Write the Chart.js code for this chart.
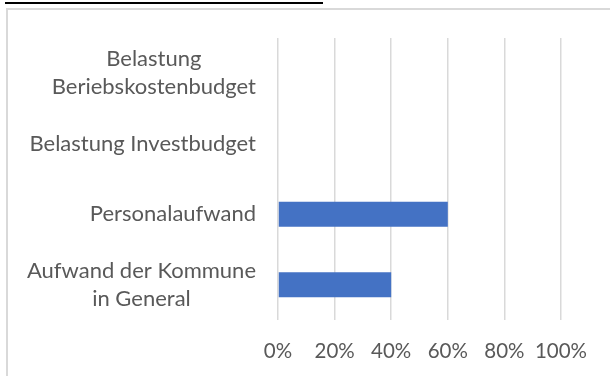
<!DOCTYPE html>
<html>
<head>
<meta charset="utf-8">
<script src="https://cdn.jsdelivr.net/npm/chart.js@4/dist/chart.umd.min.js"></script>
<style>
  html, body { margin: 0; padding: 0; background: #ffffff; }
  #wrap { position: relative; width: 610px; height: 376px; }
</style>
</head>
<body>
<div id="wrap"><canvas id="chart" width="610" height="376"></canvas></div>
<script>
// Categories, top to bottom
const categories = [
  ['Belastung', 'Beriebskostenbudget'],
  'Belastung Investbudget',
  'Personalaufwand',
  ['Aufwand der Kommune', 'in General']
];
// Share per category (fraction of 1)
const shares = [0, 0, 0.6, 0.4];
// Axis ticks
const tickValues = [0, 0.2, 0.4, 0.6, 0.8, 1];

const FONT = 'Lato, "Open Sans", sans-serif';
const TEXT = '#595959';
const LABEL_SIZE = 22;
const LABEL_LINE = 28;
const LABEL_GAP = 22;

// Frame: dark rule above and light outline around the chart
const framePlugin = {
  id: 'frame',
  beforeDraw(chart) {
    const ctx = chart.ctx;
    ctx.save();
    ctx.fillStyle = '#ffffff';
    ctx.fillRect(0, 0, chart.width, chart.height);
    ctx.fillStyle = '#000000';
    ctx.fillRect(5, 2, 318, 2);
    ctx.strokeStyle = '#d9d9d9';
    ctx.lineWidth = 2;
    ctx.strokeRect(7, 9, chart.width + 20, chart.height + 20);
    ctx.restore();
  }
};

// Category labels: right-aligned blocks whose lines are centred within the block
const categoryLabels = {
  id: 'categoryLabels',
  afterDraw(chart) {
    const ctx = chart.ctx;
    const y = chart.scales.y;
    const right = chart.chartArea.left - LABEL_GAP;
    ctx.save();
    ctx.font = LABEL_SIZE + 'px ' + FONT;
    ctx.fillStyle = TEXT;
    ctx.textAlign = 'center';
    ctx.textBaseline = 'middle';
    chart.data.labels.forEach((label, i) => {
      const lines = Array.isArray(label) ? label : [label];
      const w = Math.max(...lines.map(l => ctx.measureText(l).width));
      const cx = right - w / 2;
      const cy = y.getPixelForTick(i);
      lines.forEach((l, j) => {
        ctx.fillText(l, cx, cy + (j - (lines.length - 1) / 2) * LABEL_LINE);
      });
    });
    ctx.restore();
  }
};

new Chart(document.getElementById('chart'), {
  type: 'bar',
  data: {
    labels: categories,
    datasets: [{
      data: shares,
      backgroundColor: '#4472C4',
      borderWidth: 0,
      barPercentage: 0.355,
      categoryPercentage: 1
    }]
  },
  options: {
    indexAxis: 'y',
    responsive: false,
    animation: false,
    layout: { padding: { left: 0, top: 38, right: 49, bottom: 0 } },
    plugins: { legend: { display: false }, tooltip: { enabled: false } },
    scales: {
      x: {
        min: 0,
        max: 1,
        afterBuildTicks(scale) { scale.ticks = tickValues.map(v => ({ value: v })); },
        afterFit(scale) { scale.height = 56; },
        ticks: {
          callback: v => Math.round(v * 100) + '%',
          color: TEXT,
          font: { family: FONT, size: 20.5 },
          padding: 19,
          maxRotation: 0
        },
        grid: { color: '#d9d9d9', lineWidth: 1.5, drawTicks: false },
        border: { display: false }
      },
      y: {
        afterFit(scale) { scale.width = 278; },
        ticks: { display: false },
        grid: { display: false, drawTicks: false },
        border: { display: false }
      }
    }
  },
  plugins: [framePlugin, categoryLabels]
});
</script>
</body>
</html>
